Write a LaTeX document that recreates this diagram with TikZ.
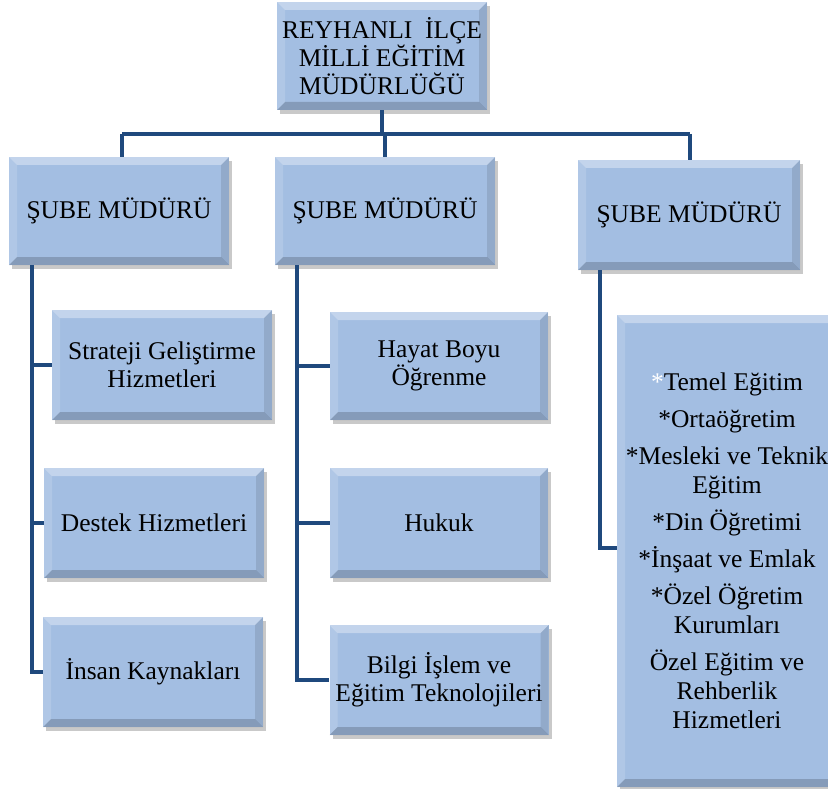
\documentclass[tikz,border=0pt]{standalone}
\usepackage{fontspec}
\setmainfont{LiberationSerif}[Extension=.ttf, UprightFont=*-Regular, BoldFont=*-Bold, ItalicFont=*-Italic, BoldItalicFont=*-BoldItalic]
\usetikzlibrary{shadows,calc}
\definecolor{boxblue}{RGB}{163,190,226}
\definecolor{linkblue}{RGB}{31,73,125}
\tikzset{
  orgbox/.style={rectangle, fill=boxblue, inner sep=0pt, align=center,
    font=\fontsize{25.5}{28}\selectfont,
    drop shadow={shadow xshift=3pt, shadow yshift=-4pt, opacity=0.35, fill=black!60},
    path picture={
      \fill[white,opacity=0.35] (path picture bounding box.north west) -- (path picture bounding box.north east)
        -- ([xshift=-8pt,yshift=-8pt]path picture bounding box.north east) -- ([xshift=8pt,yshift=-8pt]path picture bounding box.north west) -- cycle;
      \fill[white,opacity=0.15] (path picture bounding box.north west) -- (path picture bounding box.south west)
        -- ([xshift=8pt,yshift=8pt]path picture bounding box.south west) -- ([xshift=8pt,yshift=-8pt]path picture bounding box.north west) -- cycle;
      \fill[black,opacity=0.18] (path picture bounding box.south west) -- (path picture bounding box.south east)
        -- ([xshift=-8pt,yshift=8pt]path picture bounding box.south east) -- ([xshift=8pt,yshift=8pt]path picture bounding box.south west) -- cycle;
      \fill[black,opacity=0.10] (path picture bounding box.north east) -- (path picture bounding box.south east)
        -- ([xshift=-8pt,yshift=8pt]path picture bounding box.south east) -- ([xshift=-8pt,yshift=-8pt]path picture bounding box.north east) -- cycle;
    }},
  link/.style={draw=linkblue, line width=4pt}
}
\begin{document}
\begin{tikzpicture}[x=1pt,y=-1pt]
\useasboundingbox (0,0) rectangle (828,789);
\fill[white] (0,0) rectangle (828,789);

% boxes
\node[orgbox, minimum width=210pt, minimum height=108pt] (top) at (382,56) {REYHANLI\ \ İLÇE\\MİLLİ EĞİTİM\\MÜDÜRLÜĞÜ};
\node[orgbox, minimum width=220pt, minimum height=108pt] (s1) at (119,211) {ŞUBE MÜDÜRÜ};
\node[orgbox, minimum width=220pt, minimum height=108pt] (s2) at (385,211) {ŞUBE MÜDÜRÜ};
\node[orgbox, minimum width=222pt, minimum height=110pt] (s3) at (689,215) {ŞUBE MÜDÜRÜ};

\node[orgbox, minimum width=220pt, minimum height=110pt] (a1) at (162,365) {Strateji Geliştirme\\Hizmetleri};
\node[orgbox, minimum width=220pt, minimum height=110pt] (a2) at (154,523) {Destek Hizmetleri};
\node[orgbox, minimum width=220pt, minimum height=110pt] (a3) at (153,672) {İnsan Kaynakları};

\node[orgbox, minimum width=218pt, minimum height=108pt] (b1) at (439,366) {Hayat Boyu\\Öğrenme};
\node[orgbox, minimum width=218pt, minimum height=110pt] (b2) at (439,523) {Hukuk};
\node[orgbox, minimum width=219pt, minimum height=110pt] (b3) at (439,680) {Bilgi İşlem ve\\Eğitim Teknolojileri};

\node[orgbox, minimum width=220pt, minimum height=472pt, font=\fontsize{25.5}{29}\selectfont] (c) at (727,551)
  {\textcolor{white}{*}Temel Eğitim\\[8pt]*Ortaöğretim\\[8pt]*Mesleki ve Teknik\\Eğitim\\[8pt]*Din Öğretimi\\[8pt]*İnşaat ve Emlak\\[8pt]*Özel Öğretim\\Kurumları\\[8pt]Özel Eğitim ve\\Rehberlik\\Hizmetleri};

% connector coordinates
\coordinate (bus) at (382,134);
\coordinate (busL) at (122,134);
\coordinate (busR) at (690,134);
\coordinate (l1) at ($(s1.south west)+(23,0)$);
\coordinate (l2) at ($(s2.south west)+(22,0)$);
\coordinate (l3) at ($(s3.south west)+(22,0)$);

\draw[link] (top.south) -- (bus);
\draw[link] (busL) -- (busR);
\draw[link] (busL) -- (busL |- s1.north);
\draw[link] (s2.north |- bus) -- (s2.north);
\draw[link] (busR) -- (busR |- s3.north);

\draw[link] (l1) |- (a3.west);
\draw[link] (a1.west) -- (a1.west -| l1);
\draw[link] (a2.west) -- (a2.west -| l1);

\draw[link] (l2) |- (b3.west);
\draw[link] (b1.west) -- (b1.west -| l2);
\draw[link] (b2.west) -- (b2.west -| l2);

\draw[link] (l3) |- ($(c.west)+(0,-3)$);
\end{tikzpicture}
\end{document}
